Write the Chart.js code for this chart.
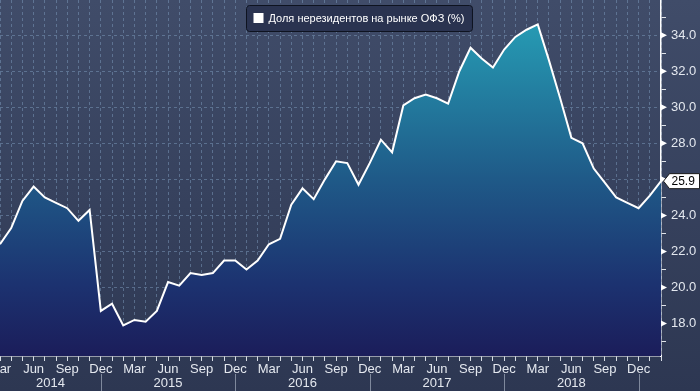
<!DOCTYPE html>
<html>
<head>
<meta charset="utf-8">
<script src="https://cdn.jsdelivr.net/npm/chart.js@4"></script>
<style>
  html, body { margin: 0; padding: 0; background: #36425f; }
  #wrap { width: 700px; height: 391px; position: relative; }
</style>
</head>
<body>
<div id="wrap"><canvas id="chart"></canvas></div>
<script>
// monthly points, Mar 2014 .. Feb 2019
const months = [
  "Mar 2014", "Apr 2014", "May 2014", "Jun 2014", "Jul 2014", "Aug 2014", "Sep 2014", "Oct 2014", "Nov 2014", "Dec 2014",
  "Jan 2015", "Feb 2015", "Mar 2015", "Apr 2015", "May 2015", "Jun 2015", "Jul 2015", "Aug 2015", "Sep 2015", "Oct 2015", "Nov 2015", "Dec 2015",
  "Jan 2016", "Feb 2016", "Mar 2016", "Apr 2016", "May 2016", "Jun 2016", "Jul 2016", "Aug 2016", "Sep 2016", "Oct 2016", "Nov 2016", "Dec 2016",
  "Jan 2017", "Feb 2017", "Mar 2017", "Apr 2017", "May 2017", "Jun 2017", "Jul 2017", "Aug 2017", "Sep 2017", "Oct 2017", "Nov 2017", "Dec 2017",
  "Jan 2018", "Feb 2018", "Mar 2018", "Apr 2018", "May 2018", "Jun 2018", "Jul 2018", "Aug 2018", "Sep 2018", "Oct 2018", "Nov 2018", "Dec 2018",
  "Jan 2019", "Feb 2019"
];

const share = [
  22.4, 23.3, 24.8, 25.6, 25.0, 24.7, 24.4, 23.7, 24.3, 18.7,
  19.1, 17.9, 18.2, 18.1, 18.7, 20.3, 20.1, 20.8, 20.7, 20.8, 21.5, 21.5,
  21.0, 21.5, 22.4, 22.7, 24.6, 25.5, 24.9, 26.0, 27.0, 26.9, 25.7, 26.9,
  28.2, 27.5, 30.1, 30.5, 30.7, 30.5, 30.2, 32.0, 33.3, 32.7, 32.2, 33.2,
  33.9, 34.3, 34.6, 32.6, 30.5, 28.3, 28.0, 26.6, 25.8, 25.0, 24.7, 24.4,
  25.1, 25.9
];

const quarterMonths = ["Mar", "Jun", "Sep", "Dec"];
const years = ["2014", "2015", "2016", "2017", "2018"];
const yearEnds = ["Dec 2014", "Dec 2015", "Dec 2016", "Dec 2017", "Dec 2018"];
const yTickValues = [17, 18, 19, 20, 21, 22, 23, 24, 25, 26, 27, 28, 29, 30, 31, 32, 33, 34, 35];
const seriesLabel = "Доля нерезидентов на рынке ОФЗ (%)";

const textColor = "#e4e8ef";
const gridColor = "rgba(125,155,190,0.5)";
const fontFamily = "'Liberation Sans', Arial, sans-serif";

const bgPlugin = {
  id: "bg",
  beforeDraw(chart) {
    const c = chart.ctx;
    const g = c.createLinearGradient(0, 0, 0, chart.height);
    g.addColorStop(0, "#404c69");
    g.addColorStop(1, "#2d3752");
    c.save();
    c.fillStyle = g;
    c.fillRect(0, 0, chart.width, chart.height);
    c.restore();
  }
};

const decorPlugin = {
  id: "decor",
  afterDraw(chart) {
    const c = chart.ctx;
    const area = chart.chartArea;
    const x = chart.scales.x;
    const y = chart.scales.y;

    // major tick arrows on the right axis
    c.save();
    c.fillStyle = "#ffffff";
    yTickValues.filter(v => v % 2 === 0).forEach(v => {
      const py = y.getPixelForValue(v);
      c.beginPath();
      c.moveTo(area.right, py - 3);
      c.lineTo(area.right + 6, py);
      c.lineTo(area.right, py + 3);
      c.closePath();
      c.fill();
    });

    // year row
    c.font = "13px " + fontFamily;
    c.fillStyle = textColor;
    c.textAlign = "center";
    c.textBaseline = "middle";
    let prev = area.left;
    years.forEach((yr, i) => {
      const sep = x.getPixelForValue(months.indexOf(yearEnds[i]));
      c.fillText(yr, (prev + sep) / 2, 383);
      c.strokeStyle = "#7f899d";
      c.lineWidth = 1;
      c.beginPath();
      c.moveTo(Math.round(sep) + 0.5, 374);
      c.lineTo(Math.round(sep) + 0.5, chart.height);
      c.stroke();
      prev = sep;
    });

    // last value tag
    const last = share[share.length - 1];
    const ly = y.getPixelForValue(last);
    const lx = area.right + 2.5;
    c.beginPath();
    c.moveTo(lx, ly);
    c.lineTo(lx + 6, ly - 7.5);
    c.lineTo(lx + 36, ly - 7.5);
    c.lineTo(lx + 36, ly + 7.5);
    c.lineTo(lx + 6, ly + 7.5);
    c.closePath();
    c.fillStyle = "#ffffff";
    c.fill();
    c.strokeStyle = "#1a1a1a";
    c.stroke();
    c.fillStyle = "#000000";
    c.textAlign = "left";
    c.font = "12px " + fontFamily;
    c.fillText(last.toFixed(1), lx + 8, ly + 0.5);

    // legend box
    c.font = "11px " + fontFamily;
    const tw = c.measureText(seriesLabel).width;
    const bw = tw + 30;
    const bx = Math.round(359 - bw / 2) + 0.5;
    c.beginPath();
    c.roundRect(bx, 5.5, bw, 26, 3);
    c.fillStyle = "#2a3350";
    c.fill();
    c.strokeStyle = "#0e1320";
    c.stroke();
    c.fillStyle = "#ffffff";
    c.fillRect(bx + 7, 13, 10, 10);
    c.fillText(seriesLabel, bx + 22, 18.5);
    c.restore();
  }
};

new Chart(document.getElementById("chart"), {
  type: "line",
  data: {
    labels: months,
    datasets: [
      {
        label: seriesLabel,
        data: share,
        borderColor: "#ffffff",
        borderWidth: 2,
        pointRadius: 0,
        tension: 0,
        fill: "start",
        backgroundColor: (ctx) => {
          const area = ctx.chart.chartArea;
          if (!area) return "#1f5a88";
          const g = ctx.chart.ctx.createLinearGradient(0, area.top, 0, area.bottom);
          g.addColorStop(0, "#2aa3ba");
          g.addColorStop(0.12, "#2593ae");
          g.addColorStop(0.5, "#1f5a88");
          g.addColorStop(0.8, "#1c3270");
          g.addColorStop(1, "#1b1d5a");
          return g;
        },
      },
    ],
  },
  options: {
    responsive: true,
    maintainAspectRatio: false,
    animation: false,
    layout: { padding: 0 },
    plugins: {
      legend: { display: false },
      tooltip: { enabled: false },
    },
    scales: {
      x: {
        type: "category",
        offset: false,
        z: 1,
        grid: {
          color: gridColor,
          tickColor: "#d8dde6",
          tickLength: 5,
          tickBorderDash: [],
        },
        border: { color: "#ffffff", width: 1.5, dash: [3, 3] },
        ticks: {
          autoSkip: false,
          maxRotation: 0,
          minRotation: 0,
          padding: 1,
          color: textColor,
          font: { family: fontFamily, size: 13 },
          callback: (v, i) => {
            const m = months[i].slice(0, 3);
            return quarterMonths.includes(m) ? m : "";
          },
        },
        afterFit: (s) => {
          s.height = 35;
          s.paddingLeft = 0;
          s.paddingRight = 0;
        },
      },
      y: {
        position: "right",
        min: 16.2,
        max: 35.95,
        z: 1,
        afterBuildTicks: (s) => {
          s.ticks = yTickValues.map((v) => ({ value: v }));
        },
        grid: {
          color: (ctx) => (ctx.tick && ctx.tick.value % 2 === 0 ? gridColor : "rgba(0,0,0,0)"),
          tickColor: (ctx) => (ctx.tick && ctx.tick.value % 2 === 0 ? "rgba(0,0,0,0)" : "#e0e4ea"),
          tickLength: 5,
          tickBorderDash: [],
        },
        border: { color: "#ffffff", width: 1.5, dash: [3, 3] },
        ticks: {
          padding: 5,
          color: textColor,
          font: { family: fontFamily, size: 13 },
          callback: (v) => (v % 2 === 0 ? v.toFixed(1) : ""),
        },
        afterFit: (s) => {
          s.width = 39;
          s.paddingTop = 0;
          s.paddingBottom = 0;
        },
      },
    },
  },
  plugins: [bgPlugin, decorPlugin],
});
</script>
</body>
</html>
